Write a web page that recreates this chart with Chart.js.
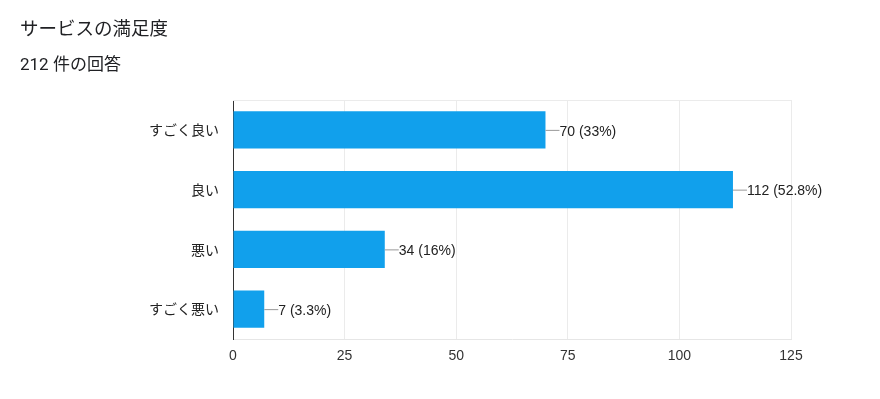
<!DOCTYPE html>
<html>
<head>
<meta charset="utf-8">
<script src="https://cdn.jsdelivr.net/npm/chart.js@4"></script>
<style>
  html, body { margin: 0; padding: 0; background: #fff; }
  #wrap { position: relative; width: 880px; height: 399px; }
  .t { position: absolute; left: 20px; color: #202124; font-family: Roboto, "Noto Sans CJK JP", sans-serif; }
  #title { top: 14px; font-size: 18.5px; }
  #sub { top: 50px; font-size: 17px; }
  canvas { position: absolute; left: 0; top: 0; }
</style>
</head>
<body>
<div id="wrap">
  <canvas id="chart" width="880" height="399"></canvas>
  <div class="t" id="title">サービスの満足度</div>
  <div class="t" id="sub">212 件の回答</div>
</div>
<script>
const categories = ["すごく良い", "良い", "悪い", "すごく悪い"];
const counts = [70, 112, 34, 7];
const totalResponses = 212;
const xTicks = [0, 25, 50, 75, 100, 125];

const barColor = "rgb(17, 160, 236)";

function pctLabel(v) {
  const p = parseFloat((v / totalResponses * 100).toPrecision(3));
  return `${v} (${p}%)`;
}

// leader line + value label at the end of each bar
const valueLabels = {
  id: "valueLabels",
  afterDatasetsDraw(chart) {
    const ctx = chart.ctx;
    const meta = chart.getDatasetMeta(0);
    ctx.save();
    ctx.font = "14px Arial, 'Liberation Sans', sans-serif";
    ctx.textBaseline = "middle";
    meta.data.forEach((bar, i) => {
      const x = bar.x, y = bar.y;
      ctx.strokeStyle = "#999";
      ctx.lineWidth = 1;
      ctx.beginPath();
      ctx.moveTo(x, y + 0.5);
      ctx.lineTo(x + 14, y + 0.5);
      ctx.stroke();
      ctx.fillStyle = "#222";
      ctx.fillText(pctLabel(counts[i]), x + 14, y + 2);
    });
    ctx.restore();
  }
};

// thin frame line along the top of the plot
const topLine = {
  id: "topLine",
  beforeDatasetsDraw(chart) {
    const { ctx, chartArea } = chart;
    ctx.save();
    ctx.strokeStyle = "#ebebeb";
    ctx.beginPath();
    ctx.moveTo(chartArea.left, chartArea.top + 0.5);
    ctx.lineTo(chartArea.right, chartArea.top + 0.5);
    ctx.stroke();
    ctx.restore();
  }
};

new Chart(document.getElementById("chart"), {
  type: "bar",
  data: {
    labels: categories,
    datasets: [{
      data: counts,
      backgroundColor: barColor,
      categoryPercentage: 1,
      barPercentage: 0.62
    }]
  },
  options: {
    indexAxis: "y",
    responsive: false,
    animation: false,
    layout: { padding: { top: 100, right: 89, left: 0, bottom: 0 } },
    plugins: {
      legend: { display: false },
      tooltip: { enabled: false }
    },
    scales: {
      x: {
        min: 0,
        max: 125,
        afterBuildTicks: s => { s.ticks = xTicks.map(v => ({ value: v })); },
        afterFit: s => { s.height = 60; },
        grid: { color: "#ebebeb", drawTicks: false },
        border: { color: "#e6e6e6" },
        ticks: {
          padding: 9,
          color: "#333",
          font: { family: "Arial, 'Liberation Sans', sans-serif", size: 14 }
        }
      },
      y: {
        afterFit: s => { s.width = 233; },
        grid: { display: false, drawTicks: false },
        border: { color: "#333", width: 1 },
        ticks: {
          padding: 14,
          color: "#222",
          font: { family: "'Noto Sans CJK JP', sans-serif", size: 14 }
        }
      }
    }
  },
  plugins: [valueLabels, topLine]
});
</script>
</body>
</html>
